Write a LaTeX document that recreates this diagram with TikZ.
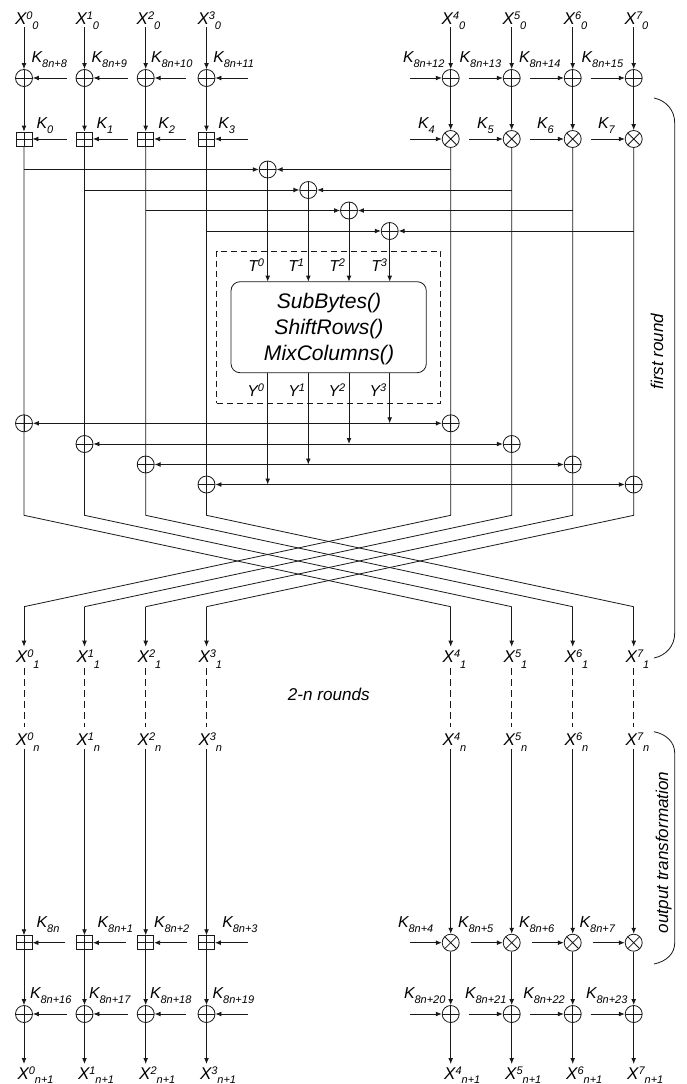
\documentclass[tikz,border=0pt]{standalone}
\usepackage{fontspec}
\setmainfont{Liberation Sans}
\usetikzlibrary{arrows.meta}
\newcommand{\fsz}[1]{\fontsize{#1}{#1}\selectfont}
\newcommand{\klab}[2]{{\fsz{15.8}\itshape K}\raisebox{-5pt}{\fsz{11}\itshape #2}}
\newcommand{\xlab}[2]{{\fsz{17}\itshape X}\raisebox{5pt}{\fsz{11}\itshape #1}\raisebox{-5.5pt}{\fsz{11}\itshape #2}}
\newcommand{\xlabz}[2]{{\fsz{17}\itshape X}\raisebox{5pt}{\fsz{11}\itshape #1}\raisebox{-4pt}{\fsz{11}\itshape #2}}
\newcommand{\tlab}[2]{{\fsz{15.8}\itshape #1}\raisebox{5pt}{\fsz{11}\itshape #2}}
\tikzset{
  wire/.style={line width=0.8pt,draw=black!90},
  arr/.style={wire,-{Latex[length=6pt,width=4.8pt]}},
  biarr/.style={wire,{Latex[length=6pt,width=4.8pt]}-{Latex[length=6pt,width=4.8pt]}},
  dashw/.style={wire,dash pattern=on 7pt off 4pt},
  xorn/.style={circle,wire,inner sep=0pt,minimum size=17pt,
    path picture={\draw[wire] (path picture bounding box.north)--(path picture bounding box.south)
      (path picture bounding box.west)--(path picture bounding box.east);}},
  muln/.style={circle,wire,inner sep=0pt,minimum size=17pt,
    path picture={\draw[wire] (path picture bounding box.north west)--(path picture bounding box.south east)
      (path picture bounding box.south west)--(path picture bounding box.north east);}},
  addn/.style={rectangle,wire,inner sep=0pt,minimum width=16pt,minimum height=14pt,
    path picture={\draw[wire] (path picture bounding box.north)--(path picture bounding box.south)
      (path picture bounding box.west)--(path picture bounding box.east);}},
  lab/.style={inner sep=0pt,outer sep=0pt,anchor=base west},
  txt/.style={inner sep=0pt,outer sep=0pt,font=\fsz{17.1}\itshape,anchor=base},
}
\begin{document}
\begin{tikzpicture}[x=1pt,y=-1pt]
\useasboundingbox (0,0) rectangle (686,1084);
% ---------- column nodes
\foreach \i/\x/\kind/\other in {0/24/addn/450.7,1/84.5/addn/511.7,2/145.7/addn/572.7,3/206.5/addn/633.7,
    4/450.7/muln/24,5/511.7/muln/84.5,6/572.7/muln/145.7,7/633.7/muln/206.5}{
  \coordinate (top\i) at (\x,27);
  \node[xorn] (xa\i) at (\x,78) {};
  \node[\kind] (ba\i) at (\x,139) {};
  \coordinate (ka\i) at (\x,515.3);
  \coordinate (kb\i) at (\other,606.7);
  \coordinate (da\i) at (\x,668);
  \coordinate (db\i) at (\x,727);
  \coordinate (cn\i) at (\x,749);
  \node[\kind] (bz\i) at (\x,942.7) {};
  \node[xorn] (xz\i) at (\x,1014) {};
  \coordinate (end\i) at (\x,1064);
}
% middle xors
\foreach \i/\x/\y in {0/24/423.3,1/84.5/444,2/145.7/464.5,3/206.5/484.5,
    4/450.7/423.3,5/511.7/444,6/572.7/464.5,7/633.7/484.5}{
  \node[xorn] (xm\i) at (\x,\y) {};
}
% T xors
\foreach \i/\x/\y in {0/267.7/169.5,1/308.3/190,2/349/210.5,3/389.7/231}{
  \node[xorn] (xt\i) at (\x,\y) {};
}
% box
\node[wire,draw,dash pattern=on 6.5pt off 3.5pt,minimum width=224pt,minimum height=152.3pt,inner sep=0pt] (frame) at (328.7,327.15) {};
\node[wire,draw,rounded corners=9pt,minimum width=195.3pt,minimum height=91pt,inner sep=0pt] (core) at (328.65,327.2) {};
\node[inner sep=0pt,anchor=base,font=\fsz{21.1}\itshape] (fa) at (329,308.3) {SubBytes()};
\node[inner sep=0pt,anchor=base,font=\fsz{21.1}\itshape] (fb) at (329,334) {ShiftRows()};
\node[inner sep=0pt,anchor=base,font=\fsz{21.1}\itshape] (fc) at (329,360) {MixColumns()};
% ---------- columns
\foreach \i in {0,...,7}{
  \draw[arr] (top\i) -- (xa\i);
  \draw[arr] (xa\i) -- (ba\i);
  \draw[wire] (ba\i.south) -- (xm\i.center) -- (ka\i) -- (kb\i);
  \draw[dashw] (da\i) -- (db\i);
  \draw[arr] (cn\i) -- (bz\i);
  \draw[arr] (bz\i) -- (xz\i);
  \draw[arr] (xz\i) -- (end\i);
}
\foreach \i/\x in {0/24,1/84.5,2/145.7,3/206.5,4/450.7,5/511.7,6/572.7,7/633.7}{
  \coordinate (kc\i) at (\x,646.7);
}
\foreach \i/\j in {0/4,1/5,2/6,3/7,4/0,5/1,6/2,7/3}{
  \draw[arr] (kb\i) -- (kc\j);
}
% ---------- key inputs
\foreach \i/\a/\b/\c/\d in {0/66.7/66.7/65/66.7,1/127.7/127.7/126/127.7,2/186/186/187/186,3/247.7/247.7/247.7/247.7,
   4/409.7/409.7/409.7/409.7,5/468.7/469/470.7/468.7,6/529.7/530/531.7/529.7,7/590.7/591/592.7/590.7}{
  \coordinate (ia\i) at (\a,78);
  \coordinate (ib\i) at (\b,139);
  \coordinate (ic\i) at (\c,942.7);
  \coordinate (id\i) at (\d,1014);
  \draw[arr] (ia\i) -- (xa\i);
  \draw[arr] (ib\i) -- (ba\i);
  \draw[arr] (ic\i) -- (bz\i);
  \draw[arr] (id\i) -- (xz\i);
}
% ---------- branches into T xors
\foreach \k/\l/\r/\lx/\rx/\y in {0/0/4/24/450.7/169.5,1/1/5/84.5/511.7/190,2/2/6/145.7/572.7/210.5,3/3/7/206.5/633.7/231}{
  \coordinate (jl\k) at (\lx,\y);
  \coordinate (jr\k) at (\rx,\y);
  \draw[arr] (jl\k) -- (xt\k);
  \draw[arr] (jr\k) -- (xt\k);
}
\foreach \k/\x in {0/267.7,1/308.3,2/349,3/389.7}{
  \coordinate (coreT\k) at (\x,281.65);
  \coordinate (coreY\k) at (\x,372.7);
  \draw[arr] (xt\k) -- (coreT\k);
}
% ---------- Y outputs and horizontal feedbacks
\foreach \l/\r in {0/4,1/5,2/6,3/7}{
  \draw[biarr] (xm\l) -- (xm\r);
}
\foreach \k/\x/\y in {0/267.7/484.5,1/308.3/464.5,2/349/444,3/389.7/423.3}{
  \coordinate (yo\k) at (\x,\y);
  \draw[arr] (coreY\k) -- (yo\k);
}
% ---------- labels T, Y
\foreach \k/\x/\y in {0/248.3/247.3,1/288.3/288.3,2/329.3/328.7,3/371.3/369.7}{
  \node[lab] (tl\k) at (\x,271.7) {\tlab{T}{\k}};
  \node[lab] (yl\k) at (\y,396) {\tlab{Y}{\k}};
}
% ---------- X labels
\foreach \i/\x in {0/24,1/84.5,2/145.7,3/206.5,4/450.7,5/511.7,6/572.7,7/633.7}{
  \node[lab,xshift=-9pt] (xl\i) at (\x,24) {\xlab{\i}{0}};
  \node[lab,xshift=-8pt] (xo\i) at (\x,662.7) {\xlab{\i}{1}};
  \node[lab,xshift=-8pt] (xs\i) at (\x,745.5) {\xlab{\i}{n}};
  \node[lab,xshift=-6.5pt] (xe\i) at (\x,1079) {\xlabz{\i}{n+1}};
}
% ---------- K labels
\foreach \i/\x/\s in {0/31.7/8n+8,1/91.7/8n+9,2/151/8n+10,3/213.3/8n+11,4/403/8n+12,5/459.7/8n+13,6/519/8n+14,7/581.7/8n+15}{
  \node[lab] (kta\i) at (\x,62.7) {\klab{}{\s}};
}
\foreach \i/\x/\s in {0/36.7/0,1/96.7/1,2/158.3/2,3/218.3/3,4/418/4,5/477/5,6/537/6,7/598/7}{
  \node[lab] (ktb\i) at (\x,128.3) {\klab{}{\s}};
}
\foreach \i/\x/\s in {0/36.7/8n,1/97.7/8n+1,2/154/8n+2,3/222.3/8n+3,4/398/8n+4,5/458/8n+5,6/519/8n+6,7/579.7/8n+7}{
  \node[lab] (ktc\i) at (\x,927.3) {\klab{}{\s}};
}
\foreach \i/\x/\s in {0/30/8n+16,1/89/8n+17,2/150/8n+18,3/212.7/8n+19,4/404/8n+20,5/465/8n+21,6/523.3/8n+22,7/586/8n+23}{
  \node[lab] (ktd\i) at (\x,998.3) {\klab{}{\s}};
}
% ---------- captions
\node[txt] (cap2n) at (328.8,700) {2-n rounds};
\node[txt,rotate=90] (capfirst) at (663,351.5) {first round};
\node[txt,rotate=90] (capout) at (668,852.3) {output transformation};
% ---------- braces
\draw[wire] (654,98) .. controls (666,100.5) and (674.7,110) .. (674.7,123) -- (674.7,633)
   .. controls (674.7,646) and (666,655.5) .. (654,658);
\draw[wire] (654,731.7) .. controls (666,734) and (674.7,742) .. (674.7,753) -- (674.7,943)
   .. controls (674.7,954) and (666,961.5) .. (654,964);
\end{tikzpicture}
\end{document}
